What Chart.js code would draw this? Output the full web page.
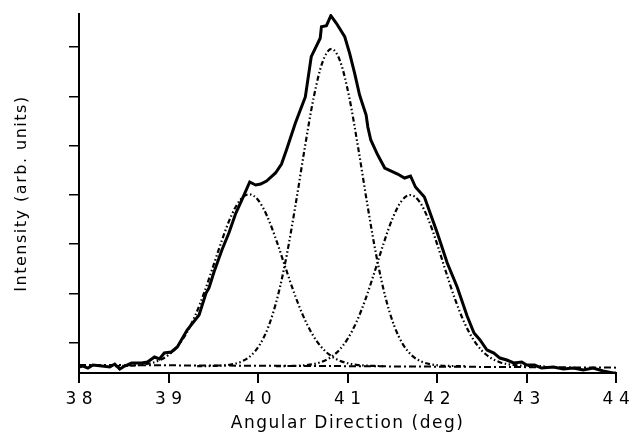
<!DOCTYPE html>
<html>
<head>
<meta charset="utf-8">
<script src="https://cdn.jsdelivr.net/npm/chart.js@4"></script>
<style>
  html, body { margin: 0; padding: 0; background: #fff; }
  canvas { display: block; }
</style>
</head>
<body>
<canvas id="chartCanvas" width="633" height="432"></canvas>
<script>
// measured intensity (solid line)
const measX = [38.000, 38.044, 38.100, 38.155, 38.255, 38.344, 38.399, 38.455, 38.510, 38.588,
  38.698, 38.765, 38.843, 38.898, 38.953, 39.031, 39.098, 39.208, 39.341, 39.419,
  39.452, 39.508, 39.596, 39.674, 39.752, 39.818, 39.907, 39.973, 40.029, 40.095,
  40.195, 40.262, 40.317, 40.417, 40.472, 40.528, 40.594, 40.639, 40.694, 40.708,
  40.764, 40.813, 40.875, 40.968, 41.023, 41.079, 41.134, 41.207, 41.226, 41.259,
  41.337, 41.415, 41.559, 41.636, 41.703, 41.758, 41.858, 42.002, 42.113, 42.224,
  42.335, 42.412, 42.479, 42.557, 42.634, 42.701, 42.778, 42.856, 42.945, 43.000,
  43.089, 43.166, 43.299, 43.410, 43.521, 43.632, 43.743, 43.854, 43.965, 44.000];
const measY = [0.503, 0.523, 0.482, 0.543, 0.523, 0.503, 0.563, 0.462, 0.523, 0.584,
  0.584, 0.604, 0.706, 0.665, 0.787, 0.807, 0.909, 1.254, 1.558, 2.005,
  2.107, 2.431, 2.878, 3.223, 3.629, 3.893, 4.259, 4.198, 4.218, 4.279,
  4.442, 4.624, 4.909, 5.457, 5.721, 5.985, 6.803, 6.974, 7.177, 7.412,
  7.432, 7.636, 7.481, 7.209, 6.872, 6.466, 6.025, 5.619, 5.375, 5.112,
  4.807, 4.543, 4.421, 4.340, 4.381, 4.157, 3.954, 3.223, 2.614, 2.127,
  1.538, 1.193, 1.051, 0.848, 0.787, 0.685, 0.645, 0.584, 0.604, 0.543,
  0.543, 0.482, 0.503, 0.462, 0.482, 0.442, 0.482, 0.421, 0.381, 0.381];

// background (dash-dot line)
const baseX = [38.0, 41.0, 44.0];
const baseY = [0.545, 0.52, 0.49];

// fitted components (dash-dot-dot lines)
const peak1X = [38.4, 38.5, 38.6, 38.7, 38.8, 38.9, 39.0, 39.1, 39.2, 39.3, 39.4, 39.5, 39.6, 39.7, 39.8, 39.9,
  40.0, 40.1, 40.2, 40.3, 40.4, 40.5, 40.6, 40.7, 40.8, 40.9, 41.0, 41.1, 41.2, 41.3, 41.4];
const peak1Y = [0.522, 0.525, 0.532, 0.547, 0.579, 0.640, 0.747, 0.923, 1.188, 1.556, 2.022, 2.554, 3.096, 3.570, 3.894, 4.010,
  3.894, 3.570, 3.096, 2.554, 2.022, 1.556, 1.188, 0.923, 0.747, 0.640, 0.579, 0.547, 0.532, 0.525, 0.522];
const peak2X = [39.32, 39.42, 39.52, 39.62, 39.72, 39.82, 39.92, 40.02, 40.12, 40.22, 40.32, 40.42, 40.52, 40.62, 40.72, 40.82,
  40.92, 41.02, 41.12, 41.22, 41.32, 41.42, 41.52, 41.62, 41.72, 41.82, 41.92, 42.02, 42.12, 42.22, 42.32];
const peak2Y = [0.520, 0.522, 0.525, 0.535, 0.560, 0.617, 0.734, 0.958, 1.342, 1.939, 2.773, 3.809, 4.933, 5.964, 6.695, 6.960,
  6.695, 5.964, 4.933, 3.809, 2.773, 1.939, 1.342, 0.958, 0.734, 0.617, 0.560, 0.535, 0.525, 0.522, 0.520];
const peak3X = [40.2, 40.3, 40.4, 40.5, 40.6, 40.7, 40.8, 40.9, 41.0, 41.1, 41.2, 41.3, 41.4, 41.5, 41.6, 41.7,
  41.8, 41.9, 42.0, 42.1, 42.2, 42.3, 42.4, 42.5, 42.6, 42.7, 42.8, 42.9, 43.0, 43.1, 43.2];
const peak3Y = [0.521, 0.522, 0.526, 0.536, 0.557, 0.601, 0.686, 0.834, 1.073, 1.420, 1.880, 2.426, 2.999, 3.511, 3.867, 3.995,
  3.867, 3.511, 2.999, 2.426, 1.880, 1.420, 1.073, 0.834, 0.686, 0.601, 0.557, 0.536, 0.526, 0.522, 0.521];

const xTicks = [38, 39, 40, 41, 42, 43, 44];
const yTicks = [1, 2, 3, 4, 5, 6, 7];

const fontFamily = "'DejaVu Sans', 'Liberation Sans', Arial, sans-serif";

function pts(xs, ys) {
  return xs.map((x, i) => ({ x: x, y: ys[i] }));
}

// titles get a little tracking, x tick labels a lot (they sit on layer z:1, drawn after datasets)
const letterSpacingPlugin = {
  id: "letterSpacing",
  beforeDraw(chart) { chart.ctx.letterSpacing = "1.5px"; },
  afterDatasetsDraw(chart) { chart.ctx.letterSpacing = "5.5px"; },
  afterDraw(chart) { chart.ctx.letterSpacing = "0px"; },
};

const componentStyle = {
  borderColor: "#000",
  borderWidth: 2.2,
  borderDash: [5, 2.5, 1.5, 2.5, 1.5, 2.5],
  pointRadius: 0,
  cubicInterpolationMode: "monotone",
  fill: false,
};

const ctx = document.getElementById("chartCanvas").getContext("2d");

new Chart(ctx, {
  type: "line",
  data: {
    datasets: [
      { data: pts(baseX, baseY), borderColor: "#000", borderWidth: 2, borderDash: [7, 3, 2, 3], pointRadius: 0 },
      Object.assign({ data: pts(peak1X, peak1Y) }, componentStyle),
      Object.assign({ data: pts(peak2X, peak2Y) }, componentStyle),
      Object.assign({ data: pts(peak3X, peak3Y) }, componentStyle),
      { data: pts(measX, measY), borderColor: "#000", borderWidth: 3, pointRadius: 0, tension: 0 },
    ],
  },
  options: {
    responsive: false,
    animation: false,
    layout: { padding: { top: 14, right: 13, left: 0, bottom: 0 } },
    plugins: {
      legend: { display: false },
      tooltip: { enabled: false },
    },
    scales: {
      x: {
        type: "linear",
        min: 38,
        max: 44,
        afterBuildTicks: (scale) => { scale.ticks = xTicks.map((v) => ({ value: v })); },
        afterFit: (scale) => { scale.height = 59; },
        ticks: { color: "#000", font: { family: fontFamily, size: 17 }, padding: 6, maxRotation: 0, labelOffset: 2.75, z: 1 },
        grid: { drawOnChartArea: false, drawTicks: true, tickLength: 10, color: "#000", lineWidth: 2 },
        border: { color: "#000", width: 2 },
        title: {
          display: true,
          text: "Angular Direction (deg)",
          color: "#000",
          font: { family: fontFamily, size: 17 },
          padding: { top: 0, bottom: -2 },
        },
      },
      y: {
        min: 0.381,
        max: 7.67,
        afterBuildTicks: (scale) => { scale.ticks = yTicks.map((v) => ({ value: v })); },
        afterFit: (scale) => { scale.width = 79; },
        ticks: { display: false },
        grid: { drawOnChartArea: false, drawTicks: true, tickLength: 10, color: "#000", lineWidth: 1.5 },
        border: { color: "#000", width: 2 },
        title: {
          display: true,
          text: "Intensity (arb. units)",
          color: "#000",
          font: { family: fontFamily, size: 16 },
          padding: { top: 12, bottom: 0 },
        },
      },
    },
  },
  plugins: [letterSpacingPlugin],
});
</script>
</body>
</html>
